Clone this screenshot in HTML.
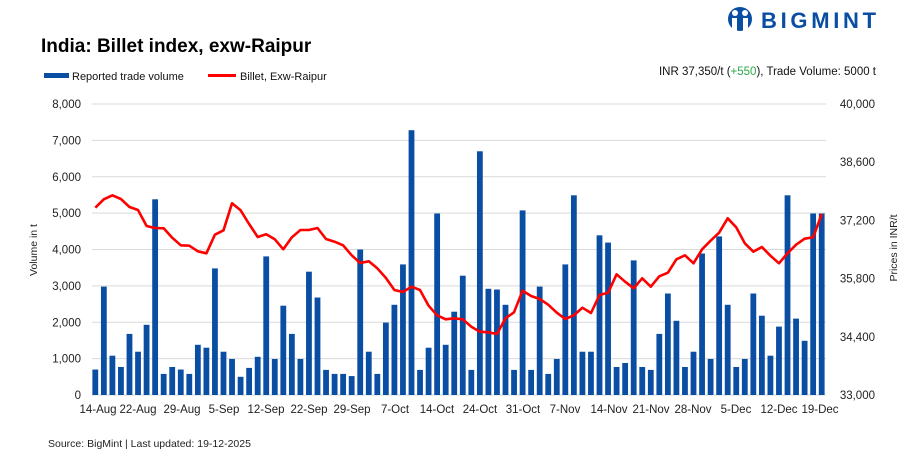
<!DOCTYPE html>
<html><head><meta charset="utf-8"><style>
body{margin:0;background:#fff;width:914px;height:464px;overflow:hidden;font-family:"Liberation Sans",Arial,sans-serif}
</style></head><body>
<svg id="s" width="914" height="464" xmlns="http://www.w3.org/2000/svg" font-family="Liberation Sans, Arial, sans-serif">
<text x="41" y="52" font-size="19" font-weight="bold" fill="#000">India: Billet index, exw-Raipur</text>
<rect x="44" y="73" width="25" height="5" fill="#0a4ea3"/>
<text x="72" y="80" font-size="11" fill="#111">Reported trade volume</text>
<rect x="208" y="74" width="28" height="3" fill="#f00"/>
<text x="240" y="80" font-size="11" fill="#111">Billet, Exw-Raipur</text>
<text x="876" y="75" font-size="11.5" fill="#111" text-anchor="end">INR 37,350/t (<tspan fill="#2aa84a">+550</tspan>), Trade Volume: 5000 t</text>
<g fill="#0a4ea3">
<circle cx="740" cy="19" r="12"/>
<circle cx="735" cy="13" r="3" fill="#fff"/><circle cx="745" cy="13" r="3" fill="#fff"/>
<rect x="732" y="18" width="5" height="13" fill="#fff"/><rect x="743" y="18" width="5" height="13" fill="#fff"/>
</g>
<text x="761" y="28" font-size="22" font-weight="bold" fill="#0a4ea3" letter-spacing="3.7">BIGMINT</text>
<g id="grid" stroke="#d9d9d9" stroke-width="1"></g>
<g id="yl" font-size="11.5" fill="#222" text-anchor="end"></g>
<g id="yr" font-size="11.5" fill="#222" text-anchor="end"></g>
<g id="bars" fill="#0a4ea3"></g>
<polyline id="ln" fill="none" stroke="#f00" stroke-width="2.6" stroke-linejoin="round"/>
<g id="xl" font-size="11.5" fill="#222" text-anchor="middle"></g>
<text transform="translate(37,250) rotate(-90)" font-size="10.5" fill="#222" text-anchor="middle">Volume in t</text>
<text transform="translate(897,248) rotate(-90)" font-size="10.5" fill="#222" text-anchor="middle">Prices in INR/t</text>
<text x="48" y="447" font-size="10.5" fill="#222">Source: BigMint | Last updated: 19-12-2025</text>
</svg>
<script>
var NS="http://www.w3.org/2000/svg";
function el(p,t,a,txt){var e=document.createElementNS(NS,t);for(var k in a)e.setAttribute(k,a[k]);if(txt)e.textContent=txt;document.getElementById(p).appendChild(e);}
var base=395,top0=104,h=base-top0;
for(var i=0;i<=8;i++){var y=base-h*i/8;el("grid","line",{x1:92,x2:826,y1:y,y2:y});
el("yl","text",{x:81,y:y+4},(i*1000).toLocaleString("en-US"));}
for(var i=0;i<=5;i++){var y=base-h*i/5;el("yr","text",{x:875,y:y+4},(33000+i*1400).toLocaleString("en-US"));}
var v=[700,2980,1080,770,1680,1190,1930,5380,580,770,700,580,1380,1300,3480,1190,990,500,745,1050,3810,990,2455,1680,990,3390,2680,690,580,580,520,4000,1190,580,1990,2480,3590,7280,690,1300,4990,1380,2290,3280,690,6700,2920,2900,2480,690,5075,690,2980,580,990,3590,5490,1190,1190,4390,4190,770,880,3700,770,690,1680,2790,2040,770,1190,3890,990,4360,2480,770,990,2790,2180,1080,1880,5490,2100,1490,4990,4990];
var L=[323,298,286,297,321,330,378,384,385,413,436,437,454,460,404,391,310,331,372,411,403,418,448,412,390,390,384,417,425,436,466,489,484,505,534,570,576,560,570,617,646,658,655,658,680,695,697,702,655,637,572,588,597,614,638,657,646,623,639,585,578,523,545,565,535,560,529,518,478,466,490,448,422,398,355,382,430,455,441,467,490,460,434,416,412,342];
var x0=95.3,dx=(821.7-95.3)/85,pts=[];
for(var i=0;i<86;i++){var x=x0+i*dx,bh=v[i]/1000*h/8;
el("bars","rect",{x:x-2.9,y:base-bh,width:5.8,height:bh});
pts.push(x.toFixed(1)+","+(100+L[i]/3).toFixed(1));}
document.getElementById("ln").setAttribute("points",pts.join(" "));
var xl=["14-Aug","22-Aug","29-Aug","5-Sep","12-Sep","22-Sep","29-Sep","7-Oct","14-Oct","24-Oct","31-Oct","7-Nov","14-Nov","21-Nov","28-Nov","5-Dec","12-Dec","19-Dec"];
var xs=[98,138,182,224,266,309,352,395,437,480,523,565,609,651,693,736,779,820];
for(var i=0;i<xl.length;i++)el("xl","text",{x:xs[i],y:413},xl[i]);
</script>
</body></html>
